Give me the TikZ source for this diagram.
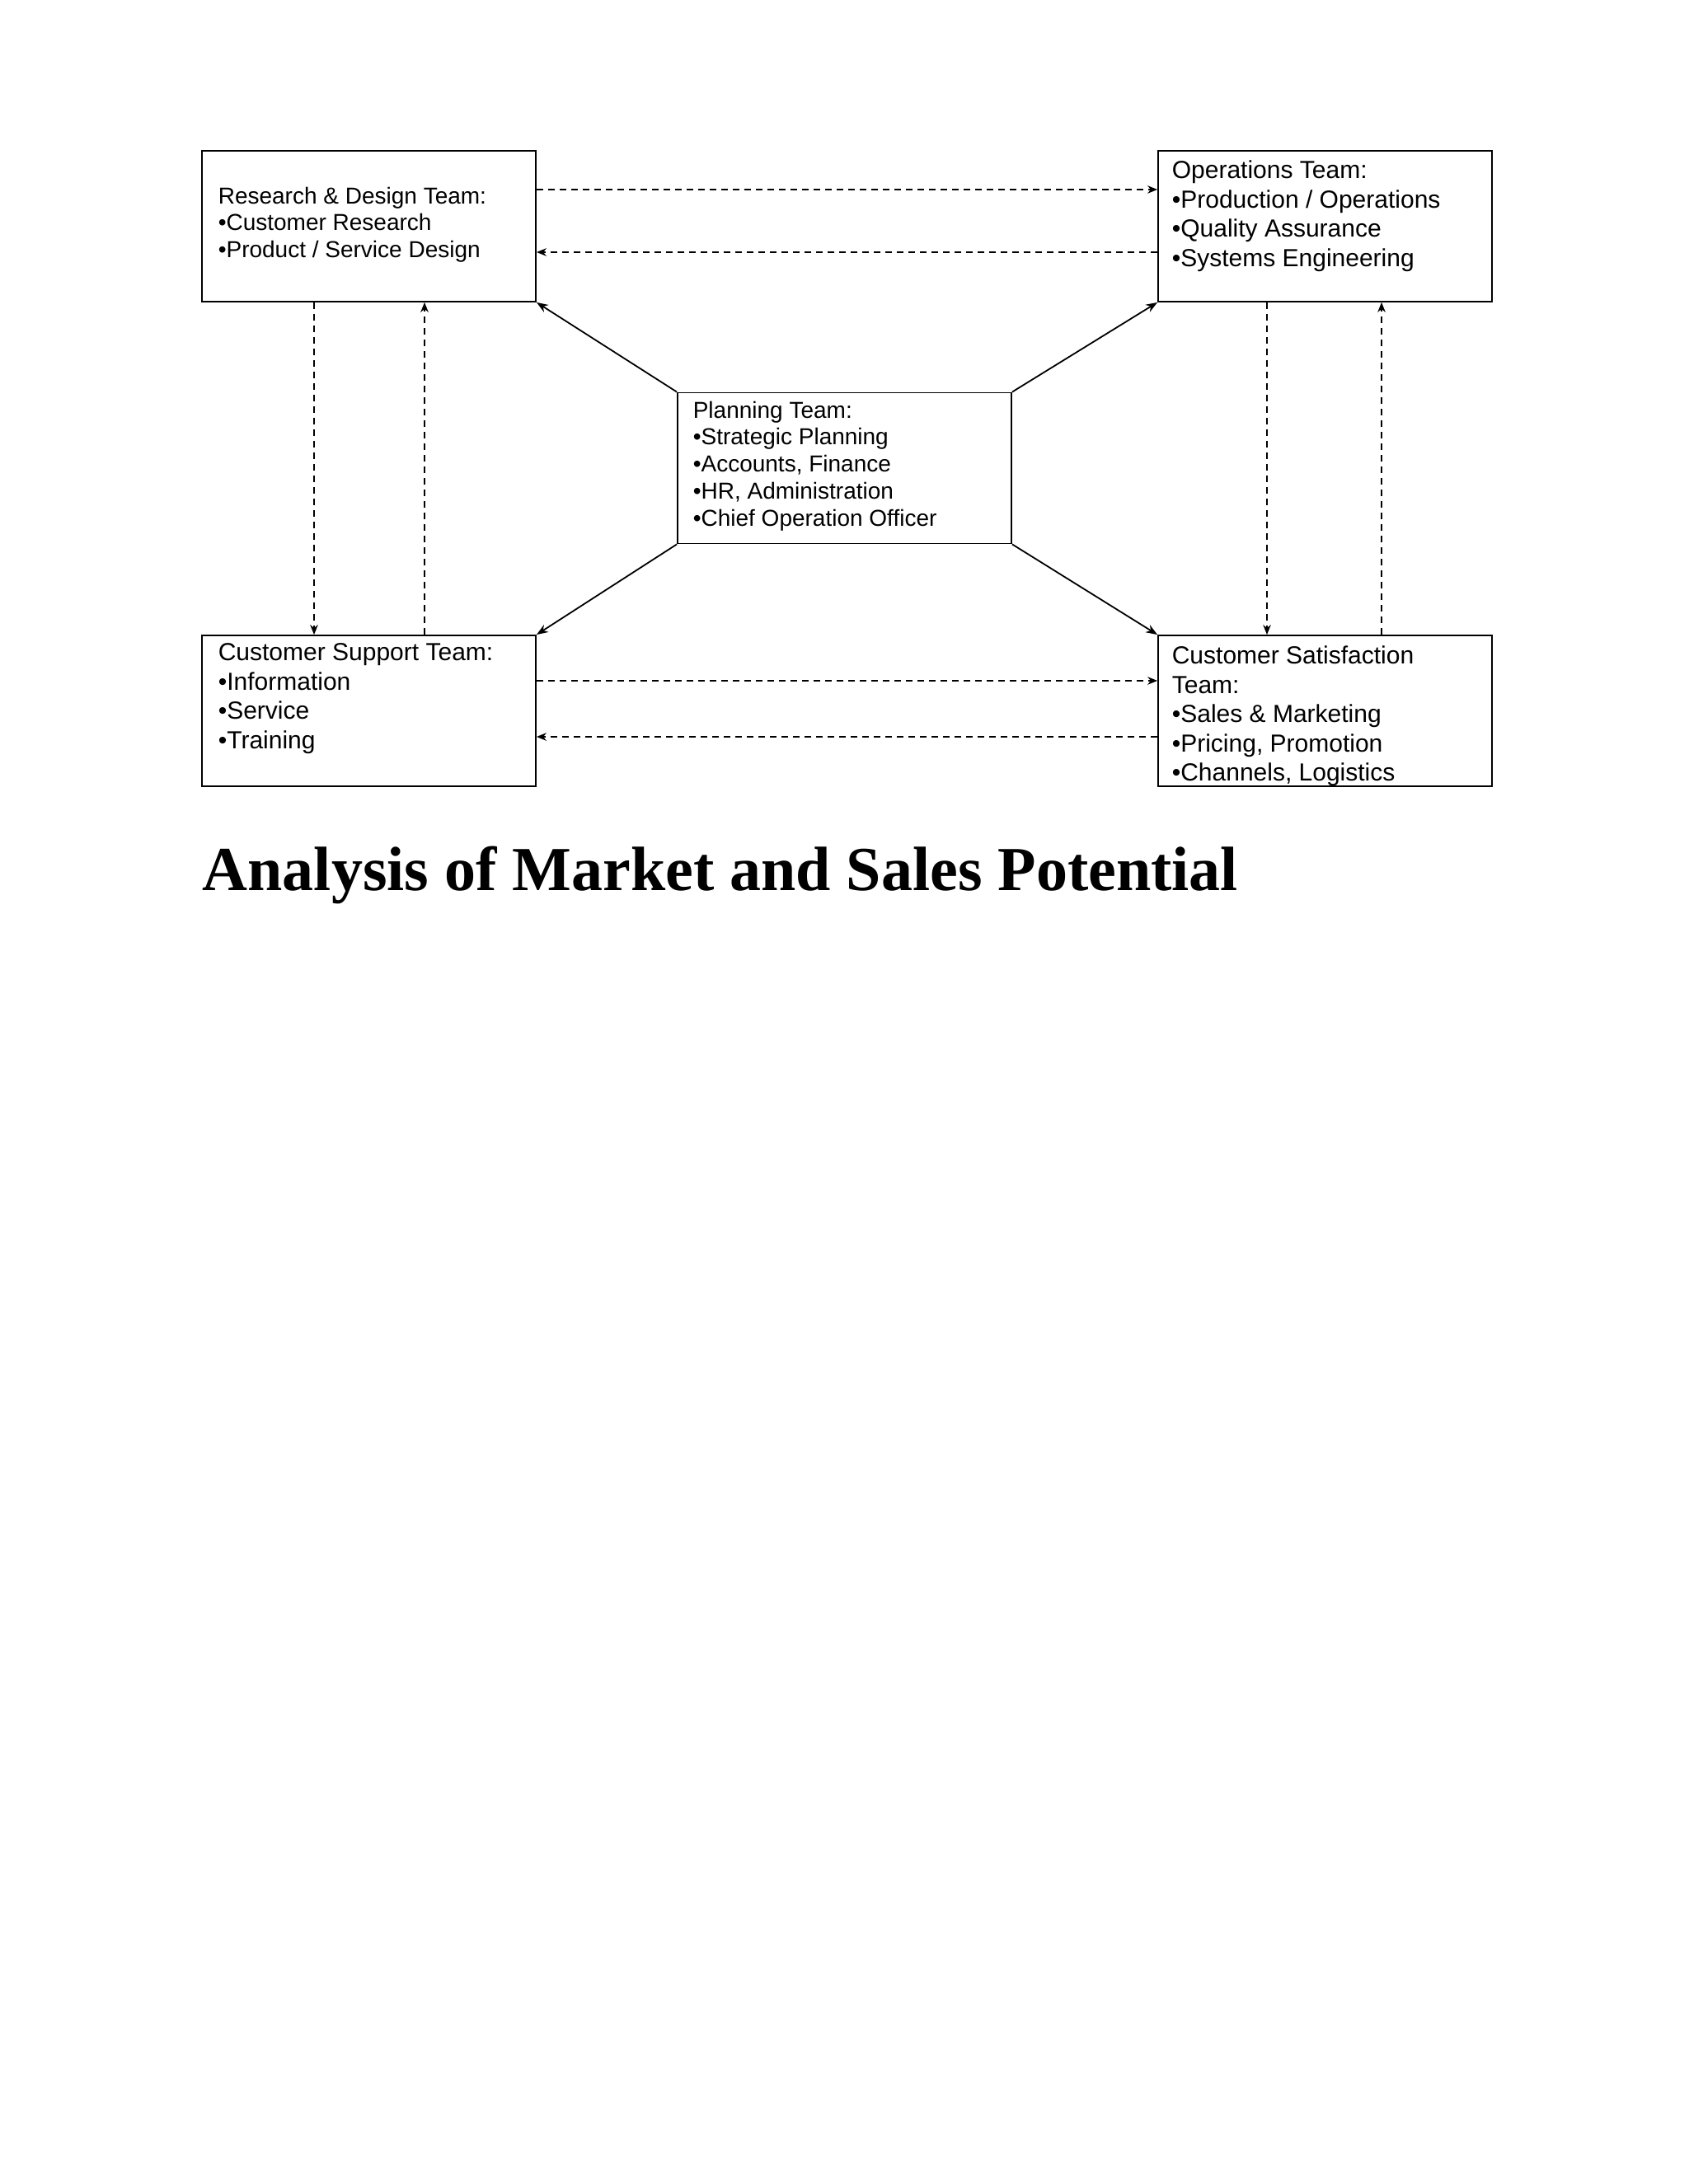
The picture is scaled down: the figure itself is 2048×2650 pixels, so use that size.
\documentclass[tikz,border=0pt]{standalone}
\usepackage{fontspec}
\setmainfont{Liberation Serif}
\newfontfamily\boxfont{Liberation Sans}
\usetikzlibrary{arrows.meta}
\begin{document}
\begin{tikzpicture}[x=0.25pt,y=-0.25pt,
  teambox/.style={draw,line width=0.45pt,minimum width=101.25pt,minimum height=45.75pt,inner sep=0},
  teamtext/.style={anchor=north west,inner sep=0,align=left,font=\boxfont\fontsize{7}{8.2}\selectfont},
  bigtext/.style={anchor=north west,inner sep=0,align=left,font=\boxfont\fontsize{7.5}{8.9}\selectfont},
  dlink/.style={dashed,dash pattern=on 2pt off 1.5pt,line width=0.4pt,-{Stealth[length=3pt,width=2.4pt]}},
  slink/.style={line width=0.45pt,-{Stealth[length=3.5pt,width=2.6pt]}}]
\useasboundingbox (0,0) rectangle (2048,2650);
\fill[white] (0,0) rectangle (2048,2650);
\node[teambox] (rd) at (447.5,274.5) {};
\node[teambox] (ops) at (1607.5,274.5) {};
\node[teambox] (plan) at (1024.5,568) {};
\node[teambox] (csup) at (447.5,862.5) {};
\node[teambox] (csat) at (1607.5,862.5) {};
\node[teamtext] (rdt) at (264,226) {Research \& Design Team:\\•Customer Research\\•Product / Service Design};
\node[bigtext] (opst) at (1421,194) {Operations Team:\\•Production / Operations\\•Quality Assurance\\•Systems Engineering};
\node[teamtext] (plant) at (840,486) {Planning Team:\\•Strategic Planning\\•Accounts, Finance\\•HR, Administration\\•Chief Operation Officer};
\node[bigtext] (csupt) at (264,780) {Customer Support Team:\\•Information\\•Service\\•Training};
\node[bigtext] (csatt) at (1421,783) {Customer Satisfaction\\Team:\\•Sales \& Marketing\\•Pricing, Promotion\\•Channels, Logistics};
\node[anchor=base west,inner sep=0,font=\bfseries\fontsize{19}{22}\selectfont] (title) at (245,1080) {Analysis of Market and Sales Potential};
% horizontal dashed
\draw[dlink] (rd.east |- 0,230) -- (ops.west |- 0,230);
\draw[dlink] (ops.west |- 0,306) -- (rd.east |- 0,306);
\draw[dlink] (csup.east |- 0,826) -- (csat.west |- 0,826);
\draw[dlink] (csat.west |- 0,894) -- (csup.east |- 0,894);
% vertical dashed
\draw[dlink] (rd.south -| 381,0) -- (csup.north -| 381,0);
\draw[dlink] (csup.north -| 515,0) -- (rd.south -| 515,0);
\draw[dlink] (ops.south -| 1537,0) -- (csat.north -| 1537,0);
\draw[dlink] (csat.north -| 1676,0) -- (ops.south -| 1676,0);
% diagonals
\draw[slink] (plan.north west) -- (rd.south east);
\draw[slink] (plan.north east) -- (ops.south west);
\draw[slink] (plan.south west) -- (csup.north east);
\draw[slink] (plan.south east) -- (csat.north west);
\end{tikzpicture}
\end{document}
